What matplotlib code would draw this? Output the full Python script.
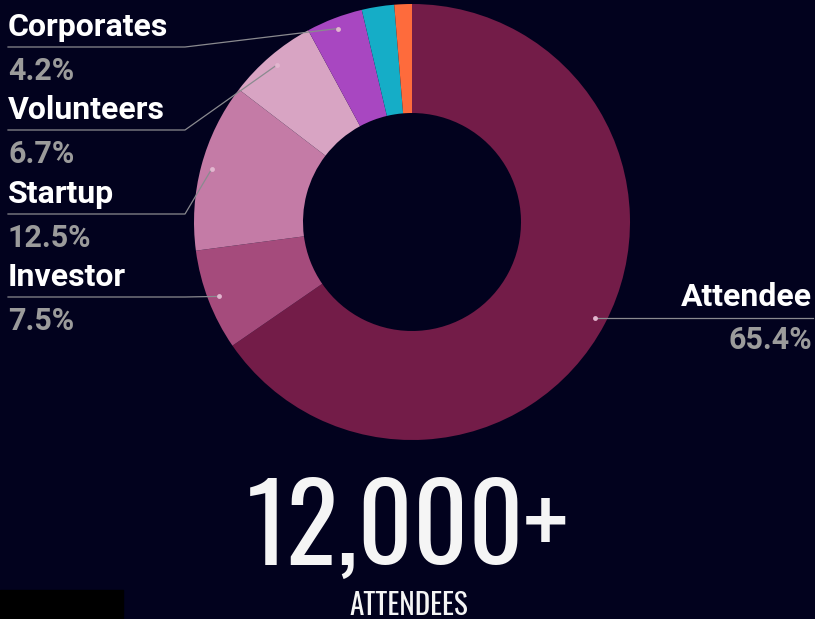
import matplotlib
matplotlib.use("Agg")
import matplotlib.pyplot as plt
import numpy as np
from matplotlib.patches import Rectangle

# slices, clockwise from 12 o'clock
segments = ["Attendee", "Investor", "Startup", "Volunteers", "Corporates", "Other A", "Other B"]
shares = [65.4, 7.5, 12.5, 6.7, 4.2, 2.4, 1.3]
pct_labels = ["65.4%", "7.5%", "12.5%", "6.7%", "4.2%", "", ""]
labelled = [True, True, True, True, True, False, False]
colors = ["#731c48", "#a54b7c", "#c47ba6", "#d8a4c3", "#a847c1", "#15adc7", "#fe6b3c"]

total_text = "12,000+"
total_caption = "ATTENDEES"

BG = "#02021e"
W, H = 815, 619


def main() -> None:
  fig = plt.figure(figsize=(W / 100, H / 100), dpi=100, facecolor=BG)
  ax = fig.add_axes([0, 0, 1, 1])
  ax.set_facecolor(BG)

  cx, cy, R = 412, H - 222, 218
  wedges, _ = ax.pie(
    shares,
    colors=colors,
    startangle=90,
    counterclock=False,
    radius=R,
    center=(cx, cy),
    wedgeprops=dict(width=R * 0.5, linewidth=0),
  )
  ax.set_xlim(0, W)
  ax.set_ylim(0, H)
  ax.axis("off")

  line_kw = dict(color="#8a8a8f", linewidth=0.9, zorder=3)
  name_kw = dict(color="white", fontsize=23, fontweight="bold", family="Roboto", va="baseline")
  pct_kw = dict(color="#9b9b9b", fontsize=22, fontweight="bold", family="Roboto", va="baseline")
  left_rows = {"Corporates": 47, "Volunteers": 130, "Startup": 214, "Investor": 297}

  for wedge, name, pct, show in zip(wedges, segments, pct_labels, labelled):
    if not show:
      continue
    mid = np.deg2rad((wedge.theta1 + wedge.theta2) / 2)
    dx = cx + R * 0.95 * np.cos(mid)
    dy = cy + R * 0.95 * np.sin(mid)
    ax.plot(dx, dy, "o", color="#e2b6cf", markersize=3.5, zorder=4, markeredgewidth=0)

    if name in left_rows:
      uy = H - left_rows[name]
      ax.plot([dx, 185, 8], [dy, uy, uy], **line_kw)
      ax.text(8, uy + 11, name, ha="left", **name_kw)
      ax.text(8, uy - 33, pct, ha="left", **pct_kw)
    else:
      ax.plot([dx, 813], [dy, dy], **line_kw)
      ax.text(812, dy + 12, name, ha="right", **name_kw)
      ax.text(812, dy - 31, pct, ha="right", **pct_kw)

  ax.text(408, H - 565, total_text, color="#f5f5f5", fontsize=77,
          family="Oswald", ha="center", va="baseline")
  ax.text(409, H - 615, total_caption, color="#f5f5f5", fontsize=21,
          family="Oswald", ha="center", va="baseline")

  ax.add_patch(Rectangle((0, 0), 123, 29, color="black", zorder=5))

  fig.savefig("out.png", dpi=100, facecolor=BG)


if __name__ == "__main__":
  main()
